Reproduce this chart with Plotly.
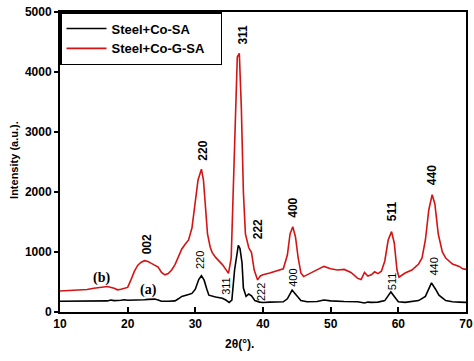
import plotly.graph_objects as go

# Sample (a): Steel+Co-SA
a_x = [10, 11, 12, 13, 14, 15, 16, 17, 17.5, 18, 19, 19.5, 20, 21, 22, 22.5, 23, 24, 24.5, 25, 26, 27, 27.5,
       28, 29, 29.5, 30, 30.5, 30.9, 31.3, 31.7, 32, 33, 34, 34.5, 35, 35.4, 35.8, 36.35, 36.6, 36.9, 37.1,
       37.5, 37.9, 38.3, 38.8, 39.5, 40, 41, 42, 43, 43.6, 44.3, 45, 45.6, 46.5, 48, 49, 50, 52, 54, 55, 55.5,
       56, 57, 58, 58.9, 59.6, 60, 61, 62, 63, 64, 64.9, 65.5, 66, 67, 68, 69, 70]
a_y = [180, 180, 178, 180, 178, 180, 182, 185, 200, 190, 195, 205, 195, 195, 200, 205, 210, 215, 200, 180, 178, 185, 220,
       260, 290, 310, 380, 540, 605, 530, 380, 280, 250, 230, 200, 160, 200, 700, 1110, 1060, 820, 400,
       260, 300, 270, 190, 165, 158, 165, 165, 170, 220, 365, 270, 190, 170, 175, 200, 185, 175, 170, 150, 165,
       160, 165, 190, 335, 230, 170, 160, 170, 190, 260, 485, 380, 280, 190, 170, 165, 160]

# Sample (b): Steel+Co-G-SA
b_x = [10, 11, 12, 13, 14, 15, 16, 17, 18, 18.5, 19, 19.5, 20, 20.5, 21, 21.5, 22, 22.5, 23, 23.5, 24, 24.5,
       25, 25.5, 26, 26.5, 27, 27.5, 28, 28.5, 29, 29.5, 30, 30.4, 30.9, 31.2, 31.5, 31.8, 32.2, 32.5, 33,
       33.5, 34, 34.5, 34.9, 35.3, 35.6, 35.9, 36.2, 36.5, 36.8, 37.1, 37.4, 37.9, 38.3, 38.7, 39.2, 39.6,
       40, 41, 42, 43, 43.6, 44, 44.4, 44.8, 45.2, 45.6, 46, 47, 48, 49, 50, 51, 52, 53, 54, 54.5, 55, 55.5,
       56, 56.5, 57, 57.5, 58, 58.5, 59.0, 59.4, 59.8, 60.1, 61, 62, 63, 63.5, 64, 64.5, 65.0, 65.4, 65.9,
       66.5, 67, 68, 69, 69.5, 70]
b_y = [350, 355, 360, 365, 375, 395, 415, 425, 395, 370, 380, 395, 410, 540, 680, 780, 830, 855, 840, 810, 780, 750,
       660, 620, 640, 700, 790, 920, 1050, 1130, 1200, 1400, 1800, 2200, 2380, 2200, 1750, 1300, 1080, 990, 910,
       850, 790, 710, 645, 900, 2000, 3300, 4250, 4310, 3400, 2000, 1300, 1070, 990, 700, 535, 600,
       620, 650, 680, 720, 950, 1300, 1420, 1250, 900, 650, 590, 650, 700, 760, 720, 700, 710, 660, 560, 540, 660, 600,
       620, 670, 640, 680, 850, 1200, 1340, 1150, 700, 580, 650, 700, 800, 900, 1200, 1700, 1955, 1800, 1300,
       1000, 900, 800, 760, 720, 710]

# Peak labels
b_lab = ["002", "220", "311", "222", "400", "511", "440"]
b_lab_x = [22.9, 31.0, 37.1, 39.3, 44.4, 59.1, 65.0]
b_lab_y = [1133, 2690, 4630, 1383, 1733, 1683, 2283]

a_lab = ["220", "311", "222", "400", "511", "440"]
a_lab_x = [30.7, 34.5, 39.6, 44.4, 59.1, 65.2]
a_lab_y = [867, 433, 338, 567, 517, 750]

tag_text = ["(b)", "(a)"]
tag_x = [16.2, 23.1]
tag_y = [561, 367]

FONT = "Liberation Sans, Arial, sans-serif"

fig = go.Figure()
fig.add_trace(go.Scatter(x=a_x, y=a_y, mode="lines", name="Steel+Co-SA",
                         line=dict(color="black", width=1.6)))
fig.add_trace(go.Scatter(x=b_x, y=b_y, mode="lines", name="Steel+Co-G-SA\u00a0\u00a0\u00a0",
                         line=dict(color="#d41414", width=1.6)))

for t, x, y in zip(b_lab, b_lab_x, b_lab_y):
    fig.add_annotation(x=x, y=y, text="<b>" + t + "</b>", showarrow=False, textangle=-90,
                       font=dict(family=FONT, size=12, color="black"))
for t, x, y in zip(a_lab, a_lab_x, a_lab_y):
    fig.add_annotation(x=x, y=y, text=t, showarrow=False, textangle=-90,
                       font=dict(family=FONT, size=11, color="black"))
for t, x, y in zip(tag_text, tag_x, tag_y):
    fig.add_annotation(x=x, y=y, text="<b>" + t + "</b>", showarrow=False,
                       font=dict(family="Liberation Serif, Times New Roman, serif", size=14, color="black"))

# axis titles as paper annotations
fig.add_annotation(xref="paper", yref="paper", x=0.443, y=-0.137, text="<b>2θ(°).</b>", showarrow=False,
                   font=dict(family=FONT, size=12, color="black"))
fig.add_annotation(xref="paper", yref="paper", x=-0.133, y=0.507, text="<b>Intensity (a.u.).</b>",
                   showarrow=False, textangle=-90, font=dict(family=FONT, size=11, color="black"))

fig.update_layout(
    width=474, height=361,
    margin=dict(l=60, r=8, t=12, b=49, autoexpand=False),
    plot_bgcolor="white", paper_bgcolor="white",
    showlegend=True,
    legend=dict(x=0, y=1, xanchor="left", yanchor="top", bordercolor="black", borderwidth=1.5,
                bgcolor="white", font=dict(family=FONT, size=13, color="black", weight="bold"),
                tracegroupgap=0, itemwidth=40),
)
fig.update_xaxes(range=[10, 70], tickvals=[10, 20, 30, 40, 50, 60, 70], showgrid=False, zeroline=False,
                 showline=True, linecolor="black", linewidth=2, mirror=True, automargin=False,
                 ticks="inside", ticklen=5, tickwidth=2, tickcolor="black",
                 tickfont=dict(family=FONT, size=12, color="black", weight="bold"))
fig.update_yaxes(range=[0, 5000], tickvals=[0, 1000, 2000, 3000, 4000, 5000], showgrid=False, zeroline=False,
                 showline=True, linecolor="black", linewidth=2, mirror=True, automargin=False,
                 ticks="outside", ticklen=4, tickwidth=2, tickcolor="black",
                 tickfont=dict(family=FONT, size=12, color="black", weight="bold"))

fig.write_html("out.html", config={"displayModeBar": False},
               post_script="document.body.style.margin='0';")
